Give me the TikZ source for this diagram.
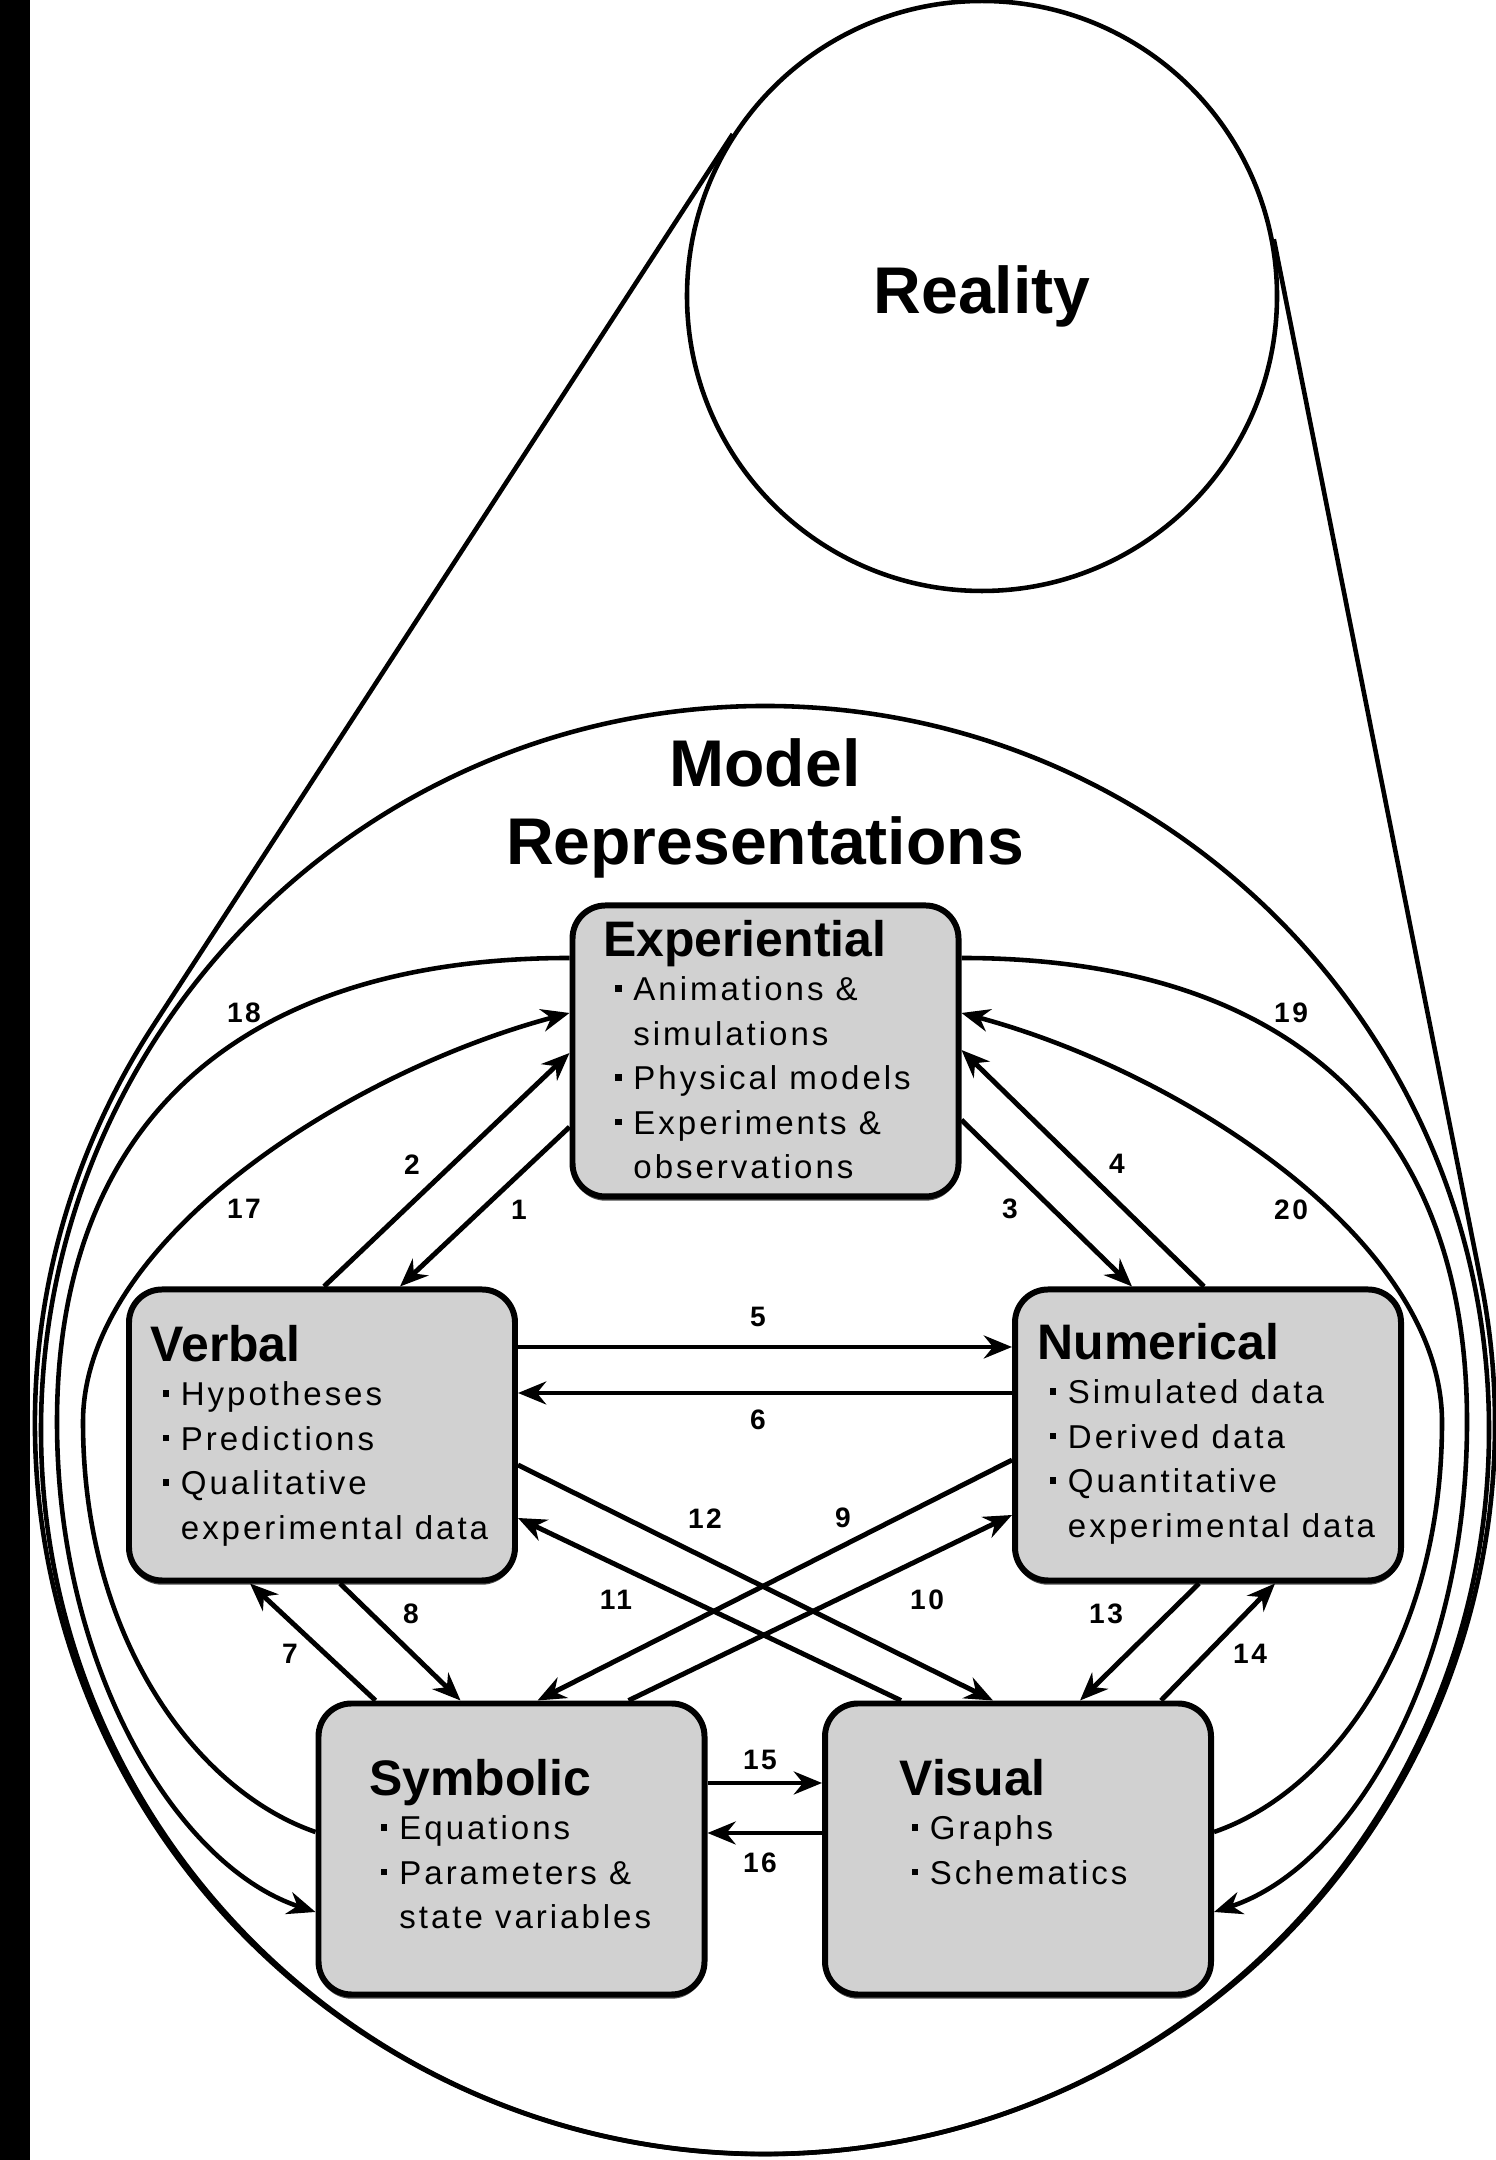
\documentclass[tikz,border=0pt]{standalone}
\usepackage{fontspec}
\setmainfont{Liberation Sans}
\newfontfamily\spacedfont[LetterSpace=9]{Liberation Sans}
\usepackage{tikz}
\usetikzlibrary{calc,arrows.meta,shadows}

\definecolor{boxgray}{gray}{0.82}
\newcommand{\bigfont}{\rmfamily\fontsize{18.8}{22.2}\selectfont\bfseries}
\newcommand{\headfont}{\rmfamily\fontsize{14.2}{17}\selectfont\bfseries}
\newcommand{\itemfont}{\spacedfont\fontsize{9.4}{12.66}\selectfont}
\newcommand{\numfont}{\spacedfont\bfseries\fontsize{8}{9.6}\selectfont}
\newcommand{\rbul}{\hspace*{3.4pt}\rule[2.6pt]{1.8pt}{1.8pt}\hspace{3.4pt}}
\newcommand{\rind}{\hspace*{8.6pt}}

\tikzset{
  repbox/.style={rectangle,rounded corners=0.33cm,draw=black,line width=1.7pt,fill=boxgray,minimum width=3.86cm,minimum height=2.91cm,inner sep=0pt,
    drop shadow={shadow xshift=0pt,shadow yshift=-1.2pt,opacity=0.7,fill=black}},
  boxtext/.style={anchor=north west,inner sep=0pt,align=left,font=\itemfont},
  numlabel/.style={font=\numfont,inner sep=0pt},
  arrowline/.style={line width=1.4pt,-{Stealth[length=8pt,width=6.5pt]}},
  curveline/.style={line width=1.3pt,-{Stealth[length=8pt,width=6.5pt]}},
}

\begin{document}
\begin{tikzpicture}
        \useasboundingbox (0,0) rectangle (14.95,21.6);
        \fill[black] (0,0) rectangle (0.30,21.6);

        % reality and the model circle
        \node[circle,minimum size=14.6cm,inner sep=0pt,outer sep=0pt] (env) at (7.65,7.36) {};
        \node[circle,draw=black,line width=1.3pt,minimum size=14.48cm,inner sep=0pt] (model) at (7.65,7.30) {};
        \node[circle,draw=black,line width=1.3pt,minimum size=5.9cm,inner sep=0pt,font=\bigfont] (reality) at (9.82,18.64) {Reality};
        \draw[line width=1.3pt] (reality.147) -- (env.147) arc[start angle=147,end angle=371.4,radius=7.3cm] -- (reality.11.4);
        \node[font=\bigfont,align=center,inner sep=0pt] (modeltitle) at (7.65,13.52) {Model\\Representations};

        % representation boxes
        \node[repbox] (exp) at (7.655,11.09) {};
        \node[repbox] (verbal) at (3.22,7.25) {};
        \node[repbox] (numer) at (12.08,7.25) {};
        \node[repbox] (symb) at (5.115,3.11) {};
        \node[repbox] (visual) at (10.18,3.11) {};

        \node[boxtext] (exp-text) at ($(exp.north west)+(0.33,-0.17)$) {{\headfont Experiential}\\\rbul Animations \&\\\rind simulations\\\rbul Physical models\\\rbul Experiments \&\\\rind observations};
        \node[boxtext] (verbal-text) at ($(verbal.north west)+(0.24,-0.38)$) {{\headfont Verbal}\\\rbul Hypotheses\\\rbul Predictions\\\rbul Qualitative\\\rind experimental data};
        \node[boxtext] (numer-text) at ($(numer.north west)+(0.25,-0.36)$) {{\headfont Numerical}\\\rbul Simulated data\\\rbul Derived data\\\rbul Quantitative\\\rind experimental data};
        \node[boxtext] (symb-text) at ($(symb.north west)+(0.53,-0.58)$) {{\headfont Symbolic}\\\rbul Equations\\\rbul Parameters \&\\\rind state variables};
        \node[boxtext] (visual-text) at ($(visual.north west)+(0.77,-0.58)$) {{\headfont Visual}\\\rbul Graphs\\\rbul Schematics};

        % straight translations
        \draw[arrowline] ($(exp.west)+(0,-0.76)$) -- ($(verbal.north)+(0.78,0)$);
        \draw[arrowline] ($(verbal.north)+(0.02,0)$) -- ($(exp.west)+(0,-0.02)$);
        \draw[arrowline] ($(exp.east)+(0,-0.69)$) -- ($(numer.north)+(-0.76,0)$);
        \draw[arrowline] ($(numer.north)+(-0.04,0)$) -- ($(exp.east)+(0,0.01)$);
        \draw[arrowline] ($(verbal.east)+(0,0.88)$) -- ($(numer.west)+(0,0.88)$);
        \draw[arrowline] ($(numer.west)+(0,0.42)$) -- ($(verbal.east)+(0,0.42)$);
        \draw[arrowline] ($(symb.north)+(-1.36,0)$) -- ($(verbal.south)+(-0.72,0)$);
        \draw[arrowline] ($(verbal.south)+(0.18,0)$) -- ($(symb.north)+(-0.51,0)$);
        \draw[arrowline] ($(numer.west)+(0,-0.25)$) -- ($(symb.north)+(0.26,0)$);
        \draw[arrowline] ($(symb.north)+(1.17,0)$) -- ($(numer.west)+(0,-0.80)$);
        \draw[arrowline] ($(visual.north)+(-1.17,0)$) -- ($(verbal.east)+(0,-0.83)$);
        \draw[arrowline] ($(verbal.east)+(0,-0.30)$) -- ($(visual.north)+(-0.25,0)$);
        \draw[arrowline] ($(numer.south)+(-0.09,0)$) -- ($(visual.north)+(0.62,0)$);
        \draw[arrowline] ($(visual.north)+(1.43,0)$) -- ($(numer.south)+(0.67,0)$);
        \draw[arrowline] ($(symb.east)+(0,0.66)$) -- ($(visual.west)+(0,0.66)$);
        \draw[arrowline] ($(visual.west)+(0,0.16)$) -- ($(symb.east)+(0,0.16)$);

        % long way round
        \draw[curveline] ($(exp.west)+(0,0.93)$) .. controls (2.41,12.02) and (0.57,10.38) .. (0.57,7.38) .. controls (0.57,4.88) and (1.79,2.93) .. ($(symb.west)+(0,-0.63)$);
        \draw[curveline] ($(symb.west)+(0,0.17)$) .. controls (1.99,3.68) and (0.83,5.18) .. (0.83,7.38) .. controls (0.83,9.18) and (3.45,10.87) .. ($(exp.west)+(0,0.38)$);
        \draw[curveline] ($(exp.east)+(0,0.93)$) .. controls (12.89,12.02) and (14.67,10.38) .. (14.67,7.38) .. controls (14.67,4.88) and (13.51,2.93) .. ($(visual.east)+(0,-0.63)$);
        \draw[curveline] ($(visual.east)+(0,0.17)$) .. controls (13.31,3.68) and (14.42,5.18) .. (14.42,7.38) .. controls (14.42,9.18) and (11.85,10.87) .. ($(exp.east)+(0,0.38)$);

        % numbers
        \node[numlabel] (lab1) at (5.19,9.50) {1};
        \node[numlabel] (lab2) at (4.12,9.95) {2};
        \node[numlabel] (lab3) at (10.10,9.51) {3};
        \node[numlabel] (lab4) at (11.17,9.96) {4};
        \node[numlabel] (lab5) at (7.58,8.43) {5};
        \node[numlabel] (lab6) at (7.58,7.40) {6};
        \node[numlabel] (lab7) at (2.90,5.06) {7};
        \node[numlabel] (lab8) at (4.11,5.46) {8};
        \node[numlabel] (lab9) at (8.43,6.42) {9};
        \node[numlabel] (lab10) at (9.27,5.60) {10};
        \node[numlabel] (lab11) at (6.16,5.60) {11};
        \node[numlabel] (lab12) at (7.05,6.41) {12};
        \node[numlabel] (lab13) at (11.06,5.46) {13};
        \node[numlabel] (lab14) at (12.50,5.06) {14};
        \node[numlabel] (lab15) at (7.60,4.00) {15};
        \node[numlabel] (lab16) at (7.60,2.97) {16};
        \node[numlabel] (lab17) at (2.44,9.51) {17};
        \node[numlabel] (lab18) at (2.44,11.47) {18};
        \node[numlabel] (lab19) at (12.91,11.47) {19};
        \node[numlabel] (lab20) at (12.91,9.50) {20};
\end{tikzpicture}
\end{document}
